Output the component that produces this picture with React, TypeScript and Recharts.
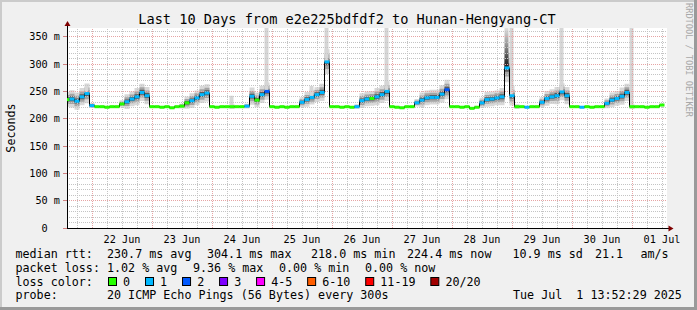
import React from 'react';
import { ComposedChart, Line, Area, Bar, Cell, XAxis, YAxis, CartesianGrid, ReferenceLine } from 'recharts';

const MONO = '"DejaVu Sans Mono", monospace';

// Time axis: days since 21 Jun 00:00. Samples every 2 hours, starting 21 Jun 14:00.
const START_HOUR = 14;
const STEP_HOURS = 2;
const X_MIN = 14 / 24;
const X_MAX = 10 + 14 / 24;

const dayLabels = ['22 Jun', '23 Jun', '24 Jun', '25 Jun', '26 Jun', '27 Jun', '28 Jun', '29 Jun', '30 Jun', '01 Jul'];
const dayLabelPos = [1.5, 2.5, 3.5, 4.5, 5.5, 6.5, 7.5, 8.5, 9.5, 10.5];
const yTicks = [0, 50, 100, 150, 200, 250, 300, 350];

// median rtt (ms)
const median: (number | null)[] = [
  /* 21 Jun 14-22 */ 235, 236, 232, 240, 246,
  /* 22 Jun */ 224, 222, 222, 221, 222, 222, 227, 231, 236, 240, 248, 242,
  /* 23 Jun */ 222, 222, 221, 222, 220, 222, 223, 229, 233, 238, 244, 247,
  /* 24 Jun */ 222, 221, 222, 222, 222, 222, 222, 223, 241, 234, 244, 250,
  /* 25 Jun */ 222, 221, 222, 221, 222, 222, 230, 235, 239, 244, 248, 304,
  /* 26 Jun */ 222, 222, 221, 222, 221, 222, 233, 236, 237, 240, 244, 250,
  /* 27 Jun */ 222, 221, 220, 222, 222, 229, 234, 238, 239, 239, 245, 253,
  /* 28 Jun */ 222, 222, 221, 222, 219, 221, 229, 235, 236, 238, 240, 293,
  /* 29 Jun */ 242, 222, 222, 221, 222, 222, 230, 237, 240, 242, 249, 242,
  /* 30 Jun */ 222, 222, 221, 222, 221, 222, 222, 228, 234, 237, 241, 248,
  /* 01 Jul 0-14 */ 222, 222, 222, 221, 222, 222, 225, null,
];

// packet loss bucket index (0 = no loss, 1 = 1 lost, 2 = 2 lost ...)
const lossBucket = [
  0, 1, 1, 1, 1,
  1, 0, 0, 0, 0, 0, 0, 1, 1, 1, 1, 1,
  0, 0, 0, 0, 0, 0, 0, 0, 1, 1, 1, 1,
  0, 0, 0, 0, 0, 0, 0, 1, 1, 0, 1, 2,
  0, 0, 0, 0, 0, 0, 1, 1, 1, 1, 1, 1,
  0, 0, 0, 0, 0, 1, 1, 1, 0, 1, 1, 1,
  0, 0, 0, 0, 0, 1, 1, 1, 1, 1, 1, 2,
  0, 0, 0, 0, 0, 0, 1, 1, 1, 1, 1, 1,
  1, 0, 0, 1, 0, 0, 1, 1, 1, 1, 1, 1,
  0, 0, 1, 0, 0, 0, 0, 1, 1, 1, 1, 1,
  0, 0, 0, 0, 0, 0, 0, 0,
];

// smoke half-width (ms)
const smokeSpread = [
  6, 7, 7, 7, 8,
  2, 1, 1, 1, 1, 1, 3, 6, 6, 7, 7, 7,
  1, 1, 1, 1, 1, 1, 2, 5, 6, 6, 7, 7,
  1, 1, 1, 1, 2, 1, 1, 2, 7, 6, 7, 7,
  1, 1, 1, 1, 1, 1, 4, 6, 6, 6, 7, 10,
  1, 1, 1, 1, 1, 2, 6, 6, 6, 7, 7, 8,
  1, 1, 1, 1, 1, 3, 6, 6, 6, 6, 7, 8,
  1, 1, 1, 1, 1, 1, 4, 6, 6, 6, 7, 12,
  8, 2, 1, 1, 1, 1, 4, 6, 6, 7, 7, 7,
  1, 1, 1, 1, 1, 1, 1, 4, 6, 6, 7, 7,
  2, 1, 1, 1, 1, 1, 1, 0,
];

// isolated max-ping spikes (day, top in ms)
const spikeTimes = [22 / 24, 3 + 8 / 24, 3 + 22 / 24, 4 + 16 / 24, 4 + 22 / 24, 5 + 22 / 24, 7 + 22 / 24, 8, 8 + 20 / 24, 10];
const spikeTops = [258, 242, 366, 260, 366, 366, 366, 366, 366, 366];
const spikeDark = [false, false, false, false, false, false, true, false, false, false];

const lossLabels = ['0', '1', '2', '3', '4-5', '6-10', '11-19', '20/20'];
const lossColors = ['#26ff00', '#00b8ff', '#0059ff', '#7e00ff', '#ff00ff', '#ff5e00', '#ff0000', '#a10000'];

const rttStats = ['230.7 ms avg', '304.1 ms max', '218.0 ms min', '224.4 ms now', '10.9 ms sd', '21.1', 'am/s'];
const lossStats = ['1.02 % avg', '9.36 % max', '0.00 % min', '0.00 % now'];
const probeText = '20 ICMP Echo Pings (56 Bytes) every 300s';
const dateText = 'Tue Jul  1 13:52:29 2025';
const titleText = 'Last 10 Days from e2e225bdfdf2 to Hunan-Hengyang-CT';

type Row = {
  t: number;
  median: number | null;
  loss: number;
  outer: [number, number] | null;
  mid: [number, number] | null;
  inner: [number, number] | null;
  spike: [number, number] | null;
  dark: boolean;
};

const rows: Row[] = median.map((m, i) => {
  const s = smokeSpread[i];
  return {
    t: (START_HOUR + STEP_HOURS * i) / 24,
    median: m,
    loss: lossBucket[i],
    outer: m == null ? null : [m - 2.2 * s, m + 2.3 * s],
    mid: m == null ? null : [m - 1.3 * s, m + 1.4 * s],
    inner: m == null ? null : [m - 0.6 * s, m + 0.7 * s],
    spike: null,
    dark: false,
  };
});
spikeTimes.forEach((st, k) => {
  const idx = Math.round((st * 24 - START_HOUR) / STEP_HOURS);
  const r = rows[idx];
  if (r && r.median != null) {
    r.spike = [r.median, spikeTops[k]];
    r.dark = spikeDark[k];
  }
});

const minorH: number[] = [];
for (let v = 10; v <= 360; v += 10) if (v % 50 !== 0) minorH.push(v);
const majorH = [50, 100, 150, 200, 250, 300, 350];
const minorV: number[] = [];
for (let k = 3; k <= 42; k++) if (k % 4 !== 0) minorV.push(k / 4);
const majorV = [1, 2, 3, 4, 5, 6, 7, 8, 9, 10];

const MINOR = '#c4c4c4';
const MAJOR = '#e6a4a4';

const YTick = (props: any) => {
  const { x, y, payload } = props;
  const zero = payload.value === 0;
  return (
    <text x={zero ? x - 12.3 : x} y={y} dy="0.36em" textAnchor="end" fontSize={10.2} fontFamily={MONO} fill="#000">
      {zero ? '0' : `${payload.value} m`}
    </text>
  );
};

const XTick = (props: any) => {
  const { x, y, payload } = props;
  const idx = dayLabelPos.indexOf(payload.value);
  return (
    <text x={x} y={y + 12.6} textAnchor="middle" fontSize={10.2} fontFamily={MONO} fill="#000">
      {dayLabels[idx]}
    </text>
  );
};

const LossDot = (props: any) => {
  const { cx, cy, payload, index } = props;
  if (cx == null || cy == null || payload.median == null) return <g key={`d${index}`} />;
  return <rect key={`d${index}`} x={cx - 2.5} y={cy - 1.5} width={5} height={3} fill={lossColors[payload.loss]} />;
};

const legendLines = [258.4, 272, 285.6, 299.2];
const rttX = [107, 207, 311, 407, 512.5, 595, 640.5];
const lossX = [107, 193, 279, 365];

export default function App() {
  const legendItems: { bx: number; tx: number; label: string; color: string }[] = [];
  let lx = 108.5;
  lossLabels.forEach((lab, i) => {
    legendItems.push({ bx: lx, tx: lx + 14.6, label: lab, color: lossColors[i] });
    lx = lx + 14.6 + lab.length * 7.02 + 15.4;
  });

  const gridLine = (key: string, stroke: string, props: any) => (
    <ReferenceLine
      key={key}
      {...props}
      stroke={stroke}
      strokeWidth={1}
      strokeDasharray="1 1"
      shapeRendering="crispEdges"
      ifOverflow="hidden"
    />
  );

  return (
    <div style={{ position: 'relative', width: 697, height: 310, background: '#f0f0f0', overflow: 'hidden' }}>
      <style>{'body{margin:0}'}</style>
      <div style={{ position: 'absolute', left: 0, top: 0 }}>
        <ComposedChart width={697} height={310} data={rows} margin={{ top: 28, right: 30, bottom: 0, left: 7 }}>
          <defs>
            <linearGradient id="darkSpike" x1="0" y1="0" x2="0" y2="1">
              <stop offset="0%" stopColor="#e0e0e0" />
              <stop offset="40%" stopColor="#9a9a9a" />
              <stop offset="85%" stopColor="#303030" />
              <stop offset="100%" stopColor="#202020" />
            </linearGradient>
          </defs>
          <CartesianGrid fill="#ffffff" horizontal={false} vertical={false} />
          {minorH.map((v) => gridLine(`mh${v}`, MINOR, { y: v }))}
          {minorV.map((v) => gridLine(`mv${v}`, MINOR, { x: v }))}
          {majorH.map((v) => gridLine(`Mh${v}`, MAJOR, { y: v }))}
          {majorV.map((v) => gridLine(`Mv${v}`, MAJOR, { x: v }))}
          <XAxis
            type="number"
            dataKey="t"
            domain={[X_MIN, X_MAX]}
            allowDataOverflow
            ticks={dayLabelPos}
            interval={0}
            tick={<XTick />}
            tickLine={false}
            tickSize={0}
            axisLine={{ stroke: '#000', shapeRendering: 'crispEdges' }}
            height={82}
          />
          <YAxis
            type="number"
            domain={[0, 366]}
            allowDataOverflow
            ticks={yTicks}
            interval={0}
            width={60}
            tick={<YTick />}
            tickSize={4}
            tickMargin={3}
            tickLine={{ stroke: '#d08080', shapeRendering: 'crispEdges' }}
            axisLine={{ stroke: '#000', shapeRendering: 'crispEdges' }}
          />
          <Bar dataKey="spike" barSize={4} isAnimationActive={false}>
            {rows.map((r, i) => (
              <Cell key={`s${i}`} fill={r.dark ? 'url(#darkSpike)' : '#d6d6d6'} />
            ))}
          </Bar>
          <Area type="step" dataKey="outer" stroke="none" fill="#d8d8d8" fillOpacity={1} isAnimationActive={false} />
          <Area type="step" dataKey="mid" stroke="none" fill="#a4a4a4" fillOpacity={1} isAnimationActive={false} />
          <Area type="step" dataKey="inner" stroke="none" fill="#5c5c5c" fillOpacity={1} isAnimationActive={false} />
          <Line
            type="step"
            dataKey="median"
            stroke="#000"
            strokeWidth={1}
            dot={LossDot}
            activeDot={false}
            isAnimationActive={false}
          />
        </ComposedChart>
      </div>
      <svg width={697} height={310} style={{ position: 'absolute', left: 0, top: 0, pointerEvents: 'none' }}>
        <rect x={0} y={0} width={697} height={2} fill="#cbcbcb" />
        <rect x={0} y={0} width={2} height={310} fill="#cbcbcb" />
        <rect x={0} y={307} width={697} height={3} fill="#9a9a9a" />
        <rect x={694} y={0} width={3} height={310} fill="#9a9a9a" />
        <line x1={67.5} y1={28} x2={67.5} y2={25} stroke="#000" />
        <polygon points="64.5,26 70.5,26 67.5,21" fill="#7f0000" />
        <line x1={667} y1={228.5} x2={669} y2={228.5} stroke="#000" />
        <polygon points="668.5,225.5 668.5,231.5 673.5,228.5" fill="#7f0000" />
        <text x={347} y={24} textAnchor="middle" fontSize={13.6} fontFamily={MONO} fill="#000">
          {titleText}
        </text>
        <text transform="translate(15,128) rotate(-90)" textAnchor="middle" fontSize={11.7} fontFamily={MONO} fill="#000">
          Seconds
        </text>
        <text transform="translate(685.5,60) rotate(90)" textAnchor="middle" fontSize={8.6} fontFamily={MONO} fill="#a8a8a8">
          RRDTOOL / TOBI OETIKER
        </text>
        <g fontSize={11.7} fontFamily={MONO} fill="#000" style={{ whiteSpace: 'pre' }}>
          <text x={15.5} y={legendLines[0]}>median rtt:</text>
          {rttStats.map((s, i) => (
            <text key={`r${i}`} x={rttX[i]} y={legendLines[0]}>{s}</text>
          ))}
          <text x={15.5} y={legendLines[1]}>packet loss:</text>
          {lossStats.map((s, i) => (
            <text key={`l${i}`} x={lossX[i]} y={legendLines[1]}>{s}</text>
          ))}
          <text x={15.5} y={legendLines[2]}>loss color:</text>
          {legendItems.map((it, i) => (
            <g key={`c${i}`}>
              <rect x={it.bx} y={277.5} width={8} height={8} fill={it.color} stroke="#000" strokeWidth={1} />
              <text x={it.tx} y={legendLines[2]}>{it.label}</text>
            </g>
          ))}
          <text x={15.5} y={legendLines[3]}>probe:</text>
          <text x={107} y={legendLines[3]}>{probeText}</text>
          <text x={513} y={legendLines[3]} xmlSpace="preserve">{dateText}</text>
        </g>
      </svg>
    </div>
  );
}
